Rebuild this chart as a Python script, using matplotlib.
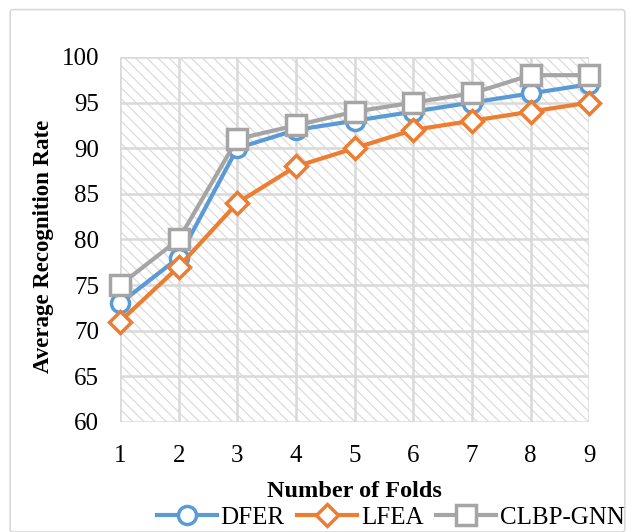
import numpy as np
import matplotlib.pyplot as plt
from matplotlib.patches import Rectangle, FancyBboxPatch

plt.rcParams['font.family'] = ['Liberation Serif', 'DejaVu Serif']
plt.rcParams['hatch.linewidth'] = 0.9
plt.rcParams['hatch.color'] = '#dcdcdc'

folds = [1, 2, 3, 4, 5, 6, 7, 8, 9]
dfer = [73, 78, 90, 92, 93, 94, 95, 96, 97]
lfea = [71, 77, 84, 88, 90, 92, 93, 94, 95]
clbp_gnn = [75, 80, 91, 92.5, 94, 95, 96, 98, 98]
y_ticks = [60, 65, 70, 75, 80, 85, 90, 95, 100]

series = [
    ('DFER', dfer, '#5b9bd5', 'o', 13),
    ('LFEA', lfea, '#ed7d31', 'D', 11),
    ('CLBP-GNN', clbp_gnn, '#a5a5a5', 's', 14),
]

fig = plt.figure(figsize=(6.35, 5.32), dpi=100)
# outer chart border
fig.patches.append(FancyBboxPatch((0.016, 0.0), 0.968, 0.982,
                                  boxstyle='round,pad=0,rounding_size=0.005',
                                  transform=fig.transFigure, fill=False,
                                  edgecolor='#d9d9d9', linewidth=1.2))

ax = fig.add_axes([0.189, 0.207, 0.739, 0.686])
ax.set_xlim(1, 9)
ax.set_ylim(60, 100)

# hatched plot area
ax.add_patch(Rectangle((0, 0), 1, 1, transform=ax.transAxes, facecolor='white',
                       hatch='\\\\\\', edgecolor='#dcdcdc', linewidth=0, zorder=0))

for x in folds:
    ax.axvline(x, color='#d9d9d9', lw=1.8, zorder=1)
for y in y_ticks:
    ax.axhline(y, color='#d9d9d9', lw=1.8, zorder=1)

for name, vals, col, mk, ms in series:
    ax.plot(folds, vals, color=col, lw=3, marker=mk, markersize=ms,
            markerfacecolor='white', markeredgecolor=col, markeredgewidth=2.5,
            label=name, zorder=3, clip_on=False)

for s in ax.spines.values():
    s.set_visible(False)
ax.set_xticks(folds)
ax.set_yticks(y_ticks)
ax.tick_params(length=0, labelsize=18)
ax.tick_params(axis='x', pad=17)
ax.tick_params(axis='y', pad=15)

ax.set_xlabel('Number of Folds', fontsize=17.5, fontweight='bold', labelpad=10)
ax.set_ylabel('Average Recognition Rate', fontsize=16.5, fontweight='bold')
ax.yaxis.set_label_coords(-0.14, 0.48)

fig.legend(*ax.get_legend_handles_labels(), loc='center', bbox_to_anchor=(0.615, 0.027),
           ncol=3, frameon=False, fontsize=18, handlelength=2.4, handletextpad=0.15,
           columnspacing=0.5, borderaxespad=0, borderpad=0)

fig.savefig('out.png', dpi=100)
